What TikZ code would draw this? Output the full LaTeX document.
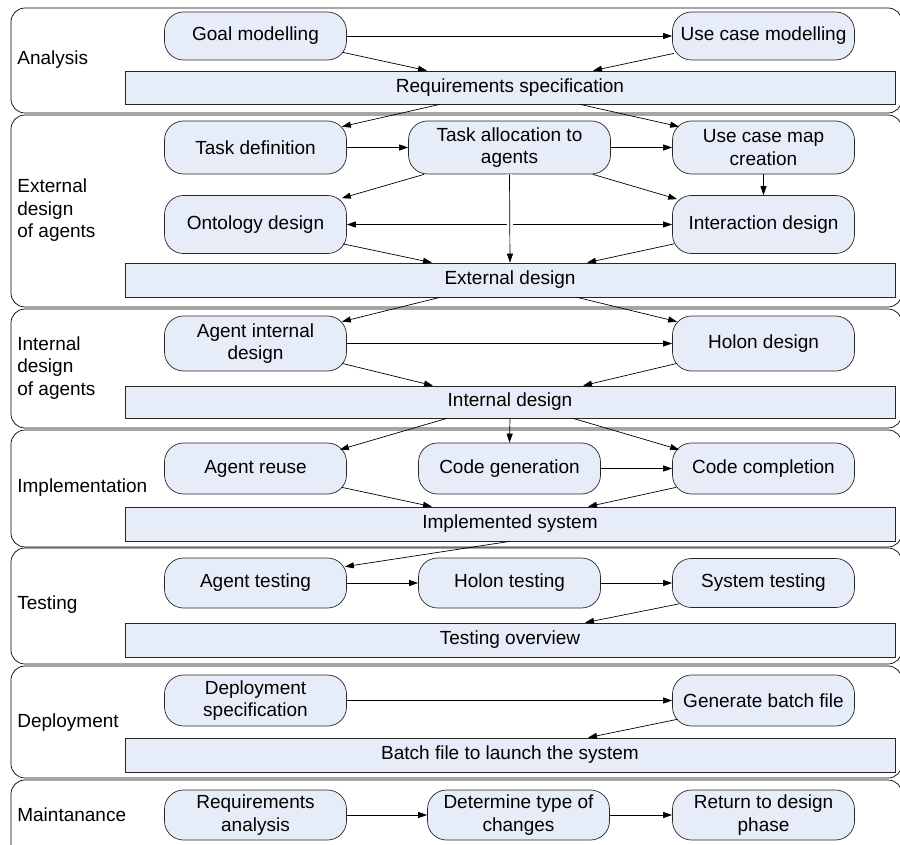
\documentclass[tikz,border=0pt]{standalone}
\usepackage{fontspec}
\setmainfont{Liberation Sans}
\usepackage{tikz}
\usetikzlibrary{arrows.meta, positioning}

\definecolor{boxfill}{RGB}{231,237,248}

\tikzset{
  stage/.style={draw=black!85, fill=boxfill, rounded corners=19pt, minimum width=182pt,
    minimum height=52pt, inner sep=2pt, align=center},
  product/.style={draw=black!85, fill=boxfill, minimum width=770pt, minimum height=34pt, inner sep=0pt},
  lane/.style={draw=black, line width=0.7pt, rounded corners=14pt},
  phase/.style={anchor=west, align=left, inner sep=0pt},
  gap/.style={preaction={draw=white, line width=6pt, -}}
}

\begin{document}
\begin{tikzpicture}[x=1pt,y=-1pt,->,>={Triangle[length=9pt,width=6pt]},line width=0.7pt,
    node distance=254pt,font=\fontsize{19}{22.5}\selectfont]
  \useasboundingbox (0,0) rectangle (900,845);

  % swim lanes
  \draw[lane,-] (11,8) rectangle (902,113);
  \draw[lane,-] (11,115) rectangle (902,307);
  \draw[lane,-] (11,309) rectangle (902,428);
  \draw[lane,-] (11,430) rectangle (902,547);
  \draw[lane,-] (11,548) rectangle (902,664);
  \draw[lane,-] (11,666) rectangle (902,778);
  \draw[lane,-] (11,780) rectangle (902,880);

  \node[phase] (lanalysis) at (17,60)    {Analysis};
  \node[phase] (lexternal) at (17,210.5) {External\\design\\of agents};
  \node[phase] (linternal) at (17,368)   {Internal\\design\\of agents};
  \node[phase] (limpl)     at (17,488)   {Implementation};
  \node[phase] (ltest)     at (17,605)   {Testing};
  \node[phase] (ldeploy)   at (17,723)   {Deployment};
  \node[phase] (lmaint)    at (17,815)   {Maintanance};

  % analysis
  \node[stage, minimum height=48pt] (goal) at (255.5,36) {Goal modelling};
  \node[stage, minimum height=48pt] (ucm) [right of=goal, node distance=508pt] {Use case modelling};
  \node[product, minimum height=33pt] (reqspec) at (510,87.5) {Requirements specification};

  % external design
  \node[stage, minimum height=53pt] (taskdef) at (255.5,147.5) {Task definition};
  \node[stage, minimum height=53pt, minimum width=202pt] (taskalloc) [right of=taskdef] {Task allocation to\\agents};
  \node[stage, minimum height=53pt] (ucmc) [right of=taskalloc] {Use case map\\creation};
  \node[stage, minimum height=58pt] (onto) at (255.5,224.5) {Ontology design};
  \node[stage, minimum height=58pt] (inter) [right of=onto, node distance=508pt] {Interaction design};
  \node[product] (extdes) at (510,280) {External design};

  % internal design
  \node[stage, minimum height=55pt] (aid) at (255.5,343.5) {Agent internal\\design};
  \node[stage, minimum height=55pt] (holon) [right of=aid, node distance=508pt] {Holon design};
  \node[product, minimum height=32pt] (intdes) at (510,402) {Internal design};

  % implementation
  \node[stage, minimum height=51pt] (reuse) at (255.5,468.5) {Agent reuse};
  \node[stage, minimum height=51pt] (codegen) [right of=reuse] {Code generation};
  \node[stage, minimum height=51pt] (codecomp) [right of=codegen] {Code completion};
  \node[product] (impl) at (510,524) {Implemented system};

  % testing
  \node[stage, minimum height=50pt] (atest) at (255.5,583) {Agent testing};
  \node[stage, minimum height=50pt] (htest) [right of=atest] {Holon testing};
  \node[stage, minimum height=49pt] (stest) [right of=htest] {System testing};
  \node[product] (testov) at (510,640) {Testing overview};

  % deployment
  \node[stage, minimum height=51pt] (depspec) at (255.5,700.5) {Deployment\\specification};
  \node[stage, minimum height=51pt] (genbatch) [right of=depspec, node distance=508pt] {Generate batch file};
  \node[product] (batch) at (510,755) {Batch file to launch the system};

  % maintanance
  \node[stage, minimum height=50pt] (reqan) at (255.5,815) {Requirements\\analysis};
  \node[stage, minimum height=50pt] (dettype) at (518.5,815) {Determine type of\\changes};
  \node[stage, minimum height=50pt] (ret) at (763.5,815) {Return to design\\phase};

  \path[->]
    (goal) edge (ucm)
    ([xshift=-4pt,yshift=8pt]goal.south east) edge ([xshift=-83pt]reqspec.north)
    ([xshift=2pt,yshift=7pt]ucm.south west) edge ([xshift=83pt]reqspec.north)
    ([xshift=-70pt]reqspec.south) edge ([xshift=-5pt,yshift=-6pt]taskdef.north east)
    ([xshift=70pt]reqspec.south) edge ([xshift=7pt,yshift=-6pt]ucmc.north west)
    (taskdef) edge (taskalloc)
    (taskalloc) edge (ucmc)
    ([xshift=16pt]taskalloc.south west) edge ([xshift=-5pt,yshift=-3pt]onto.north east)
    ([xshift=-18pt]taskalloc.south east) edge ([xshift=5pt,yshift=-4pt]inter.north west)
    (ucmc) edge (inter)
    (onto) edge[<->] (inter);
  \draw[gap] (taskalloc.south) -- (extdes.north);

  \path[->]
    ([xshift=-4pt,yshift=10pt]onto.south east) edge ([xshift=-78pt]extdes.north)
    ([xshift=2pt,yshift=10pt]inter.south west) edge ([xshift=77pt]extdes.north)
    ([xshift=-70pt]extdes.south) edge ([xshift=-5pt,yshift=-6pt]aid.north east)
    ([xshift=67pt]extdes.south) edge ([xshift=5pt,yshift=-6pt]holon.north west)
    (aid) edge (holon)
    ([xshift=-5pt,yshift=8pt]aid.south east) edge ([xshift=-77pt]intdes.north)
    ([xshift=5pt,yshift=8pt]holon.south west) edge ([xshift=73pt]intdes.north)
    ([xshift=-63pt]intdes.south) edge ([xshift=-7pt,yshift=-7pt]reuse.north east)
    (intdes.south) edge (codegen.north)
    ([xshift=63pt]intdes.south) edge ([xshift=7pt,yshift=-7pt]codecomp.north west)
    (codegen) edge (codecomp)
    ([xshift=-5pt,yshift=7pt]reuse.south east) edge ([xshift=-78pt]impl.north)
    ([xshift=4pt,yshift=7pt]codecomp.south west) edge ([xshift=78pt]impl.north)
    (impl.south) edge ([xshift=-2pt,yshift=-9pt]atest.north east)
    (atest) edge (htest)
    (htest) edge (stest)
    ([xshift=7pt,yshift=4pt]stest.south west) edge ([xshift=75pt]testov.north)
    (depspec) edge (genbatch)
    ([xshift=5pt,yshift=7pt]genbatch.south west) edge ([xshift=78pt]batch.north)
    (reqan) edge (dettype)
    (dettype) edge (ret);
\end{tikzpicture}
\end{document}
